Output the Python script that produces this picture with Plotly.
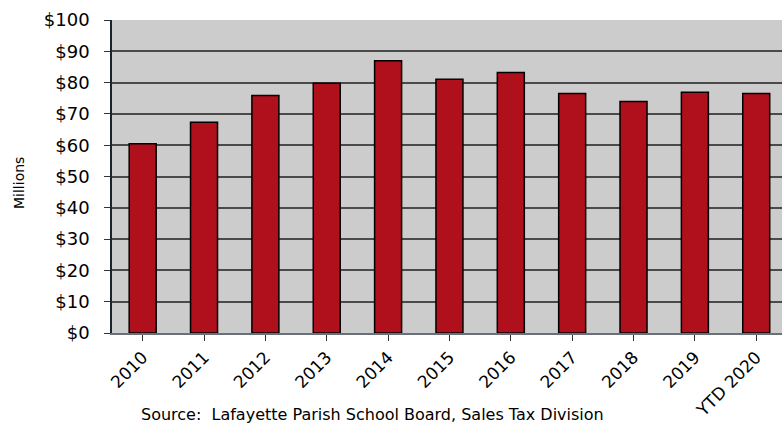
import plotly.graph_objects as go

categories = ["2010", "2011", "2012", "2013", "2014", "2015", "2016", "2017", "2018", "2019", "YTD 2020"]
values = [60.5, 67.3, 75.9, 79.8, 87.0, 81.1, 83.2, 76.5, 74.0, 76.9, 76.5]
y_ticks = [0, 10, 20, 30, 40, 50, 60, 70, 80, 90, 100]
y_tick_labels = ["$" + str(v) for v in y_ticks]
source_text = "Source:  Lafayette Parish School Board, Sales Tax Division"
y_title = "Millions"

FONT = "DejaVu Sans"
W, H = 782, 424
ML, MR, MT, MB = 112, 0, 20, 91
plot_w = W - ML - MR
plot_h = H - MT - MB


def px_x(x):
    return (x - ML) / plot_w


def px_y(y):
    return (H - MB - y) / plot_h


fig = go.Figure(go.Bar(
    x=list(range(len(categories))),
    y=values,
    width=0.44,
    marker=dict(color="#B00F1C", line=dict(color="#000000", width=1.5)),
))

fig.update_layout(
    width=W, height=H,
    margin=dict(l=ML, r=MR, t=MT, b=MB, pad=0),
    paper_bgcolor="white",
    plot_bgcolor="#CCCCCC",
    showlegend=False,
    font=dict(family=FONT, color="black"),
    xaxis=dict(
        tickmode="array",
        tickvals=list(range(len(categories))),
        ticktext=categories,
        range=[-0.5, 10.42],
        tickangle=-45,
        ticks="outside", ticklen=6, tickcolor="#333333",
        tickson="boundaries",
        showgrid=False,
        showline=True, linecolor="#6a7078", linewidth=1.5,
        tickfont=dict(family=FONT, size=17, color="black"),
        zeroline=False,
    ),
    yaxis=dict(
        range=[0, 100],
        tickmode="array",
        tickvals=y_ticks,
        ticktext=y_tick_labels,
        ticks="outside", ticklen=6, tickcolor="#333333",
        ticklabelstandoff=11,
        showgrid=True, gridcolor="#4a4a4a", gridwidth=1.5,
        showline=True, linecolor="#1a2530", linewidth=1.5,
        zeroline=False,
        tickfont=dict(family=FONT, size=18, color="black"),
    ),
    annotations=[
        dict(text=source_text, x=px_x(372), y=px_y(414), xref="paper", yref="paper",
             xanchor="center", yanchor="middle", showarrow=False,
             font=dict(family=FONT, size=16, color="black")),
        dict(text=y_title, x=px_x(19), y=px_y(183), xref="paper", yref="paper",
             xanchor="center", yanchor="middle", textangle=-90, showarrow=False,
             font=dict(family=FONT, size=14, color="black")),
    ],
)

fig.write_html("out.html", config={"displayModeBar": False},
               post_script="document.body.style.margin='0';document.body.style.overflow='hidden';")
